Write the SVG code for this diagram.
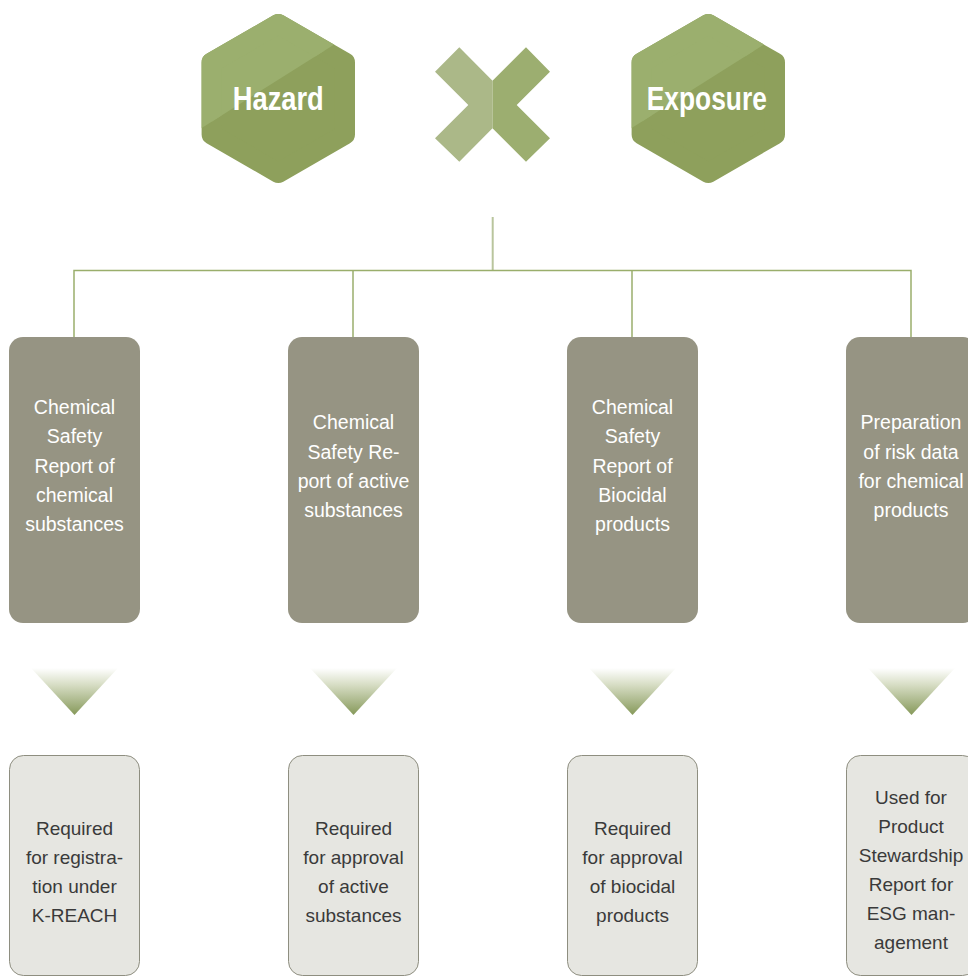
<svg xmlns="http://www.w3.org/2000/svg" width="968" height="979" viewBox="0 0 968 979">
  <style>
    .hex-dark { fill: #8ea05c; stroke: #8ea05c; stroke-width: 20; stroke-linejoin: round; }
    .hex-light { fill: #9baf6e; stroke: #9baf6e; stroke-width: 20; stroke-linejoin: round; }
    .hex-label { font-family: "Liberation Sans", Arial, sans-serif; font-weight: bold; font-size: 33px; fill: #ffffff; text-anchor: middle; }
    .step { fill: #969483; }
    .result { fill: #e6e6e1; stroke: #8e8e80; stroke-width: 1; }
    .step-text { font-family: "Liberation Sans", Arial, sans-serif; font-size: 19.5px; fill: #ffffff; text-anchor: middle; }
    .result-text { font-family: "Liberation Sans", Arial, sans-serif; font-size: 19px; fill: #3a3a3a; text-anchor: middle; }
    .branch { fill: none; stroke: #9aae6c; stroke-width: 1.5; }
    .stem { fill: none; stroke: #b9c59d; stroke-width: 2; }
    .pointer { fill: url(#pointerFade); }
  </style>
  <defs>
    <!-- upper-left sheen of the hexagon badges, local coordinates -->
    <clipPath id="sheen" clipPathUnits="userSpaceOnUse">
      <polygon points="-100,44.2 100,-81.8 100,-110 -100,-110"/>
    </clipPath>
    <polygon id="hexCore" points="0,-74.5 66.7,-36 66.7,36 0,74.5 -66.7,36 -66.7,-36"/>
    <linearGradient id="pointerFade" x1="0" y1="0" x2="0" y2="1">
      <stop offset="0" stop-color="#ffffff"/>
      <stop offset="0.35" stop-color="#d8dec6"/>
      <stop offset="1" stop-color="#86995a"/>
    </linearGradient>
  </defs>

  <!-- Hazard badge -->
  <g id="hazard" transform="translate(278.3,98.5)">
    <use href="#hexCore" class="hex-dark"/>
    <use href="#hexCore" class="hex-light" clip-path="url(#sheen)"/>
    <text class="hex-label" x="0" y="11.5" textLength="91" lengthAdjust="spacingAndGlyphs">Hazard</text>
  </g>

  <!-- multiplication sign -->
  <g id="times">
    <polygon fill="#abb888" points="459.3,47.3 492.5,80.7 492.5,128.3 459.3,161.7 435,138.3 468.3,105 435,71.7"/>
    <polygon fill="#9cae70" points="526,47.3 550,71.7 516.7,105 550,138.3 526,161.7 492.5,128.3 492.5,80.7"/>
  </g>

  <!-- Exposure badge -->
  <g id="exposure" transform="translate(708.3,98.5)">
    <use href="#hexCore" class="hex-dark"/>
    <use href="#hexCore" class="hex-light" clip-path="url(#sheen)"/>
    <text class="hex-label" x="-1.5" y="11.5" textLength="120" lengthAdjust="spacingAndGlyphs">Exposure</text>
  </g>

  <!-- connectors -->
  <g id="connectors">
    <line class="stem" x1="492.7" y1="217" x2="492.7" y2="270"/>
    <polyline class="branch" points="74,337 74,270.5 911,270.5 911,337"/>
    <line class="branch" x1="353" y1="270.5" x2="353" y2="337"/>
    <line class="branch" x1="632" y1="270.5" x2="632" y2="337"/>
    <polygon class="pointer" points="31,668 118,668 74.5,715"/>
    <polygon class="pointer" points="310,668 397,668 353.5,715"/>
    <polygon class="pointer" points="589,668 676,668 632.5,715"/>
    <polygon class="pointer" points="868,668 955,668 911.5,715"/>
  </g>

  <!-- assessment steps -->
  <g id="step-chemical">
    <rect class="step" x="9" y="337" width="131" height="286" rx="14"/>
    <text class="step-text" x="74.5" y="414">Chemical</text>
    <text class="step-text" x="74.5" y="443.3">Safety</text>
    <text class="step-text" x="74.5" y="472.6">Report of</text>
    <text class="step-text" x="74.5" y="502">chemical</text>
    <text class="step-text" x="74.5" y="531">substances</text>
  </g>
  <g id="step-active">
    <rect class="step" x="288" y="337" width="131" height="286" rx="14"/>
    <text class="step-text" x="353.5" y="429.3">Chemical</text>
    <text class="step-text" x="353.5" y="458.6">Safety Re-</text>
    <text class="step-text" x="353.5" y="488">port of active</text>
    <text class="step-text" x="353.5" y="517.3">substances</text>
  </g>
  <g id="step-biocidal">
    <rect class="step" x="567" y="337" width="131" height="286" rx="14"/>
    <text class="step-text" x="632.5" y="414">Chemical</text>
    <text class="step-text" x="632.5" y="443.3">Safety</text>
    <text class="step-text" x="632.5" y="472.6">Report of</text>
    <text class="step-text" x="632.5" y="502">Biocidal</text>
    <text class="step-text" x="632.5" y="531">products</text>
  </g>
  <g id="step-products">
    <rect class="step" x="846" y="337" width="131" height="286" rx="14"/>
    <text class="step-text" x="911" y="429.3">Preparation</text>
    <text class="step-text" x="911" y="458.6">of risk data</text>
    <text class="step-text" x="911" y="488">for chemical</text>
    <text class="step-text" x="911" y="517.3">products</text>
  </g>

  <!-- outcomes -->
  <g id="use-kreach">
    <rect class="result" x="9.5" y="755.5" width="130" height="220" rx="14"/>
    <text class="result-text" x="74.5" y="835">Required</text>
    <text class="result-text" x="74.5" y="864">for registra-</text>
    <text class="result-text" x="74.5" y="893">tion under</text>
    <text class="result-text" x="74.5" y="922">K-REACH</text>
  </g>
  <g id="use-active">
    <rect class="result" x="288.5" y="755.5" width="130" height="220" rx="14"/>
    <text class="result-text" x="353.5" y="835">Required</text>
    <text class="result-text" x="353.5" y="864">for approval</text>
    <text class="result-text" x="353.5" y="893">of active</text>
    <text class="result-text" x="353.5" y="922">substances</text>
  </g>
  <g id="use-biocidal">
    <rect class="result" x="567.5" y="755.5" width="130" height="220" rx="14"/>
    <text class="result-text" x="632.5" y="835">Required</text>
    <text class="result-text" x="632.5" y="864">for approval</text>
    <text class="result-text" x="632.5" y="893">of biocidal</text>
    <text class="result-text" x="632.5" y="922">products</text>
  </g>
  <g id="use-esg">
    <rect class="result" x="846.5" y="755.5" width="130" height="220" rx="14"/>
    <text class="result-text" x="911" y="804">Used for</text>
    <text class="result-text" x="911" y="833">Product</text>
    <text class="result-text" x="911" y="862">Stewardship</text>
    <text class="result-text" x="911" y="891">Report for</text>
    <text class="result-text" x="911" y="920">ESG man-</text>
    <text class="result-text" x="911" y="949">agement</text>
  </g>
</svg>
